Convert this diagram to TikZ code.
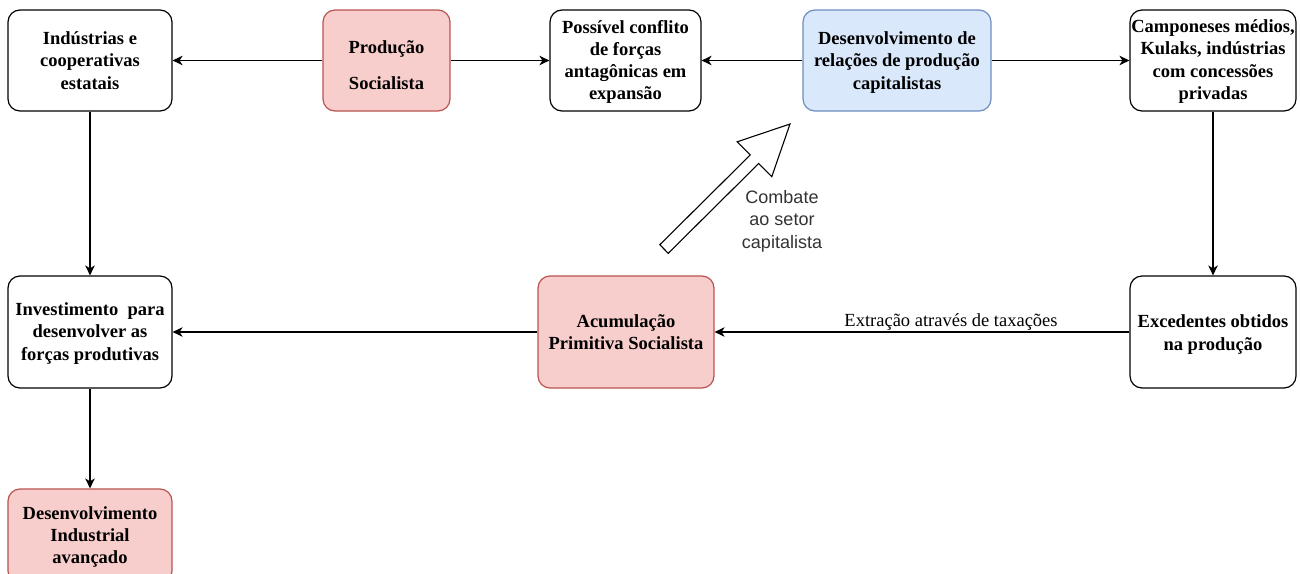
\documentclass[tikz,border=0pt]{standalone}
\usepackage{fontspec}
\setmainfont{Liberation Serif}
\setsansfont{Liberation Sans}
\usetikzlibrary{arrows.meta}
\definecolor{pinkfill}{HTML}{F8CECC}
\definecolor{pinkdraw}{HTML}{B85450}
\definecolor{bluefill}{HTML}{DAE8FC}
\definecolor{bluedraw}{HTML}{6C8EBF}
\definecolor{labelgray}{HTML}{333333}
\newcommand{\lowertext}[2]{\raisebox{-#1}[\height][\depth]{#2}}
\tikzset{
  box/.style={draw=black, fill=white, rounded corners=12pt, line width=1.2pt,
    align=center, inner sep=1pt, minimum width=164pt, minimum height=101pt,
    font=\bfseries\fontsize{18.5}{22.3}\selectfont},
  pinkbox/.style={box, fill=pinkfill, draw=pinkdraw},
  bluebox/.style={box, fill=bluefill, draw=bluedraw},
  arr/.style={draw=black, line width=1.3pt, -{Stealth[length=10pt,width=9.5pt,inset=3pt]}},
  edgelabel/.style={font=\fontsize{18.5}{22}\selectfont, inner sep=1pt},
  sidelabel/.style={font=\sffamily\fontsize{18}{22.5}\selectfont, text=labelgray, align=center},
  flexarrow/.style={draw=black, fill=white, line width=1.1pt, line join=miter}
}
\begin{document}
\begin{tikzpicture}[x=1pt,y=-1pt]
\useasboundingbox (0,0) rectangle (1300,573);
\clip (0,0) rectangle (1300,573);
\fill[white] (0,0) rectangle (1300,573);

% top row
\node[box, minimum width=164pt] (A) at (90,60.5) {\lowertext{2pt}{\begin{tabular}{@{}c@{}}Indústrias e\\cooperativas\\estatais\end{tabular}}};
\node[pinkbox, minimum width=127pt] (B) at (386.5,60.5) {\lowertext{7pt}{\begin{tabular}{@{}c@{}}Produção\\[13.7pt]Socialista\end{tabular}}};
\node[box, minimum width=151pt] (C) at (625.5,60.5) {\lowertext{1.5pt}{\begin{tabular}{@{}c@{}}Possível conflito\\de forças\\antagônicas em\\expansão\end{tabular}}};
\node[bluebox, minimum width=188pt] (D) at (897,60.5) {\lowertext{2pt}{\begin{tabular}{@{}c@{}}Desenvolvimento de\\relações de produção\\capitalistas\end{tabular}}};
\node[box, minimum width=166pt] (E) at (1213,60.5) {\lowertext{1pt}{\begin{tabular}{@{}c@{}}Camponeses médios,\\Kulaks, indústrias\\com concessões\\privadas\end{tabular}}};

% middle row
\node[box, minimum width=164pt, minimum height=112pt] (F) at (90,332) {\lowertext{1.5pt}{\begin{tabular}{@{}c@{}}Investimento\ \ para\\desenvolver as\\forças produtivas\end{tabular}}};
\node[pinkbox, minimum width=176pt, minimum height=112pt] (G) at (626,332) {\lowertext{2pt}{\begin{tabular}{@{}c@{}}Acumulação\\Primitiva Socialista\end{tabular}}};
\node[box, minimum width=166pt, minimum height=112pt] (H) at (1213,332) {\lowertext{2.5pt}{\begin{tabular}{@{}c@{}}Excedentes obtidos\\na produção\end{tabular}}};

% bottom
\node[pinkbox, minimum width=164pt, minimum height=94pt] (I) at (90,536) {\lowertext{1pt}{\begin{tabular}{@{}c@{}}Desenvolvimento\\Industrial\\avançado\end{tabular}}};

% connectors
\draw[arr] (B.west) -- (A.east);
\draw[arr] (B.east) -- (C.west);
\draw[arr] (D.west) -- (C.east);
\draw[arr] (D.east) -- (E.west);
\draw[arr] (A.south) -- (F.north);
\draw[arr] (E.south) -- (H.north);
\draw[arr] (H.west) -- node[edgelabel, above, pos=0.43] (lbl) {Extração através de taxações} (G.east);
\draw[arr] (G.west) -- (F.east);
\draw[arr] (F.south) -- (I.north);

% hollow (flex) arrow
\coordinate (fa1) at (659.8,244.7);
\coordinate (fa2) at (750.3,154.9);
\coordinate (fa3) at (737.2,141.8);
\coordinate (fatip) at (790,124);
\coordinate (fa5) at (771.8,176.6);
\coordinate (fa6) at (758.7,163.5);
\coordinate (fa7) at (668.2,253.3);
\draw[flexarrow] (fa1) -- (fa2) -- (fa3) -- (fatip) -- (fa5) -- (fa6) -- (fa7) -- cycle;
\node[sidelabel] (comb) at (782,221) {Combate\\ao setor\\capitalista};
\end{tikzpicture}
\end{document}
